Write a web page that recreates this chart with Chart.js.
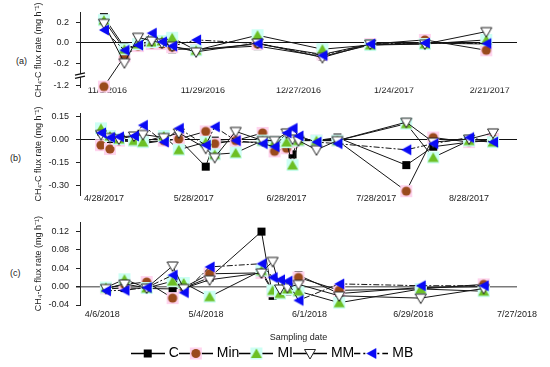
<!DOCTYPE html>
<html>
<head>
<meta charset="utf-8">
<script src="https://cdn.jsdelivr.net/npm/chart.js@4.4.0/dist/chart.umd.min.js"></script>
<style>
  body { margin: 0; background: #fff; width: 550px; height: 367px; position: relative; overflow: hidden;
         font-family: 'Liberation Sans', Arial, sans-serif; }
  canvas { position: absolute; left: 30px; }
  .tag { position: absolute; font-size: 9px; color: #222; }
</style>
</head>
<body>
<div class="tag" style="left:16px;top:56px">(a)</div>
<div class="tag" style="left:10px;top:153px">(b)</div>
<div class="tag" style="left:10px;top:268px">(c)</div>
<canvas id="chartA" width="520" height="100" style="top:0"></canvas>
<canvas id="chartB" width="520" height="110" style="top:100px"></canvas>
<canvas id="chartC" width="520" height="160" style="top:210px"></canvas>
<script>
const seriesNames = ['C', 'Min', 'MI', 'MM', 'MB'];

// panel (a)
const datesA = ['10/31/2016', '11/6/2016', '11/10/2016', '11/14/2016', '11/17/2016', '11/20/2016',
                '11/27/2016', '12/15/2016', '1/3/2017', '1/17/2017', '2/2/2017', '2/20/2017'];
const cA   = [0.25, -0.04, -0.035, -0.02, -0.02, -0.06, -0.06, -0.03, -0.13, -0.02, 0.0, -0.01];
const minA = [-1.21, -0.13, -0.03, -0.01, -0.01, -0.04, -0.065, -0.01, -0.11, -0.01, 0.03, -0.07];
const miA  = [0.22, -0.06, -0.01, 0.01, 0.02, 0.05, -0.07, 0.075, -0.06, -0.02, -0.01, 0.03];
const mmA  = [0.19, -0.19, 0.055, 0.02, 0.0, -0.03, -0.085, 0.0, -0.14, -0.01, -0.01, 0.11];
const mbA  = [0.125, -0.07, -0.02, 0.095, 0.012, -0.03, 0.03, -0.005, -0.12, -0.01, 0.0, -0.005];
const xTicksA = ['11/1/2016', '11/29/2016', '12/27/2016', '1/24/2017', '2/21/2017'];
const yTicksA = [0.2, 0, -0.2, -1.2];

// panel (b)
const datesB = ['4/27/2017', '4/30/2017', '5/3/2017', '5/8/2017', '5/11/2017', '5/18/2017', '5/23/2017',
                '6/1/2017', '6/4/2017', '6/11/2017', '6/20/2017', '6/24/2017', '6/28/2017', '6/30/2017',
                '7/2/2017', '7/8/2017', '7/15/2017', '8/7/2017', '8/16/2017', '8/28/2017', '9/5/2017'];
const cB   = [0.05, 0.0, -0.01, -0.02, -0.03, -0.01, 0.0, -0.18, -0.01, -0.02, -0.02, -0.02, -0.03, -0.10, 0.0, -0.01, 0.01, -0.17, -0.05, -0.02, -0.01];
const minB = [-0.04, -0.065, -0.01, -0.01, -0.02, -0.01, 0.0, 0.05, -0.03, -0.01, 0.04, -0.08, -0.06, -0.02, -0.01, -0.01, -0.01, -0.34, 0.01, -0.02, 0.0];
const miB  = [0.07, 0.02, 0.0, -0.01, -0.02, 0.02, -0.07, -0.02, -0.10, -0.09, -0.01, -0.02, -0.02, -0.17, -0.01, -0.01, -0.01, 0.10, -0.12, -0.01, -0.02];
const mmB  = [0.03, 0.01, 0.0, 0.02, 0.03, 0.01, 0.04, -0.06, -0.12, 0.05, -0.01, -0.01, 0.04, 0.0, -0.01, -0.07, -0.01, 0.11, -0.02, 0.0, 0.04];
const mbB  = [0.04, 0.01, 0.015, 0.02, 0.09, -0.02, 0.07, -0.04, 0.08, -0.01, -0.03, -0.05, 0.04, 0.07, 0.02, -0.02, -0.03, -0.07, -0.03, 0.01, -0.02];
const xTicksB = ['4/28/2017', '5/28/2017', '6/28/2017', '7/28/2017', '8/28/2017'];
const yTicksB = [0.15, 0, -0.15, -0.30];

// panel (c)
const datesC = ['4/7/2018', '4/12/2018', '4/18/2018', '4/25/2018', '4/28/2018', '5/5/2018', '5/19/2018',
                '5/22/2018', '5/24/2018', '5/26/2018', '5/29/2018', '6/9/2018', '7/1/2018', '7/18/2018'];
const cC   = [-0.005, -0.003, -0.004, -0.005, -0.003, 0.02, 0.12, -0.02, -0.015, -0.01, 0.025, -0.015, -0.002, 0.0];
const minC = [-0.004, 0.005, 0.01, -0.025, -0.002, 0.028, 0.03, -0.01, -0.01, -0.005, 0.02, -0.008, -0.005, 0.005];
const miC  = [-0.002, 0.016, -0.003, 0.012, 0.008, -0.022, 0.035, -0.008, -0.015, -0.005, -0.01, -0.035, -0.005, -0.01];
const mmC  = [-0.004, 0.006, -0.003, 0.045, -0.004, 0.015, 0.03, 0.055, -0.005, -0.002, 0.005, -0.02, -0.025, -0.004];
const mbC  = [-0.009, -0.008, -0.002, 0.025, -0.013, 0.043, 0.05, 0.02, 0.015, 0.012, -0.03, 0.006, 0.002, 0.002];
const xTicksC = ['4/6/2018', '5/4/2018', '6/1/2018', '6/29/2018', '7/27/2018'];
const yTicksC = [0.12, 0.08, 0.04, 0, -0.04];

const FONT = "'Liberation Sans', Arial, sans-serif";
Chart.defaults.font.family = FONT;

function toDay(s) {
    const [m, d, y] = s.split('/').map(Number);
    return Date.UTC(y, m - 1, d) / 864e5;
}
function fromDay(v) {
    const t = new Date(Math.round(v) * 864e5);
    return (t.getUTCMonth() + 1) + '/' + t.getUTCDate() + '/' + t.getUTCFullYear();
}

// marker glyphs
function drawGlyph(g, kind, cx, cy) {
    g.lineWidth = 1;
    if (kind === 0) {
        g.fillStyle = '#000';
        g.fillRect(cx - 4, cy - 4, 8, 8);
    } else if (kind === 1) {
        g.fillStyle = '#ffd4ee';
        g.fillRect(cx - 6, cy - 6, 12, 12);
        g.fillStyle = '#9a4a1c';
        g.beginPath(); g.arc(cx, cy, 4.6, 0, Math.PI * 2); g.fill();
    } else if (kind === 2) {
        g.fillStyle = '#cdfff4';
        g.fillRect(cx - 6, cy - 6, 12, 12);
        g.fillStyle = '#6cc024';
        g.beginPath(); g.moveTo(cx, cy - 5); g.lineTo(cx + 5.5, cy + 4.5); g.lineTo(cx - 5.5, cy + 4.5); g.closePath(); g.fill();
    } else if (kind === 3) {
        g.fillStyle = '#fff'; g.strokeStyle = '#222';
        g.beginPath(); g.moveTo(cx - 5.5, cy - 4); g.lineTo(cx + 5.5, cy - 4); g.lineTo(cx, cy + 5.5); g.closePath(); g.fill(); g.stroke();
    } else {
        g.fillStyle = '#0a0af5';
        g.beginPath(); g.moveTo(cx - 5, cy); g.lineTo(cx + 5, cy - 5.5); g.lineTo(cx + 5, cy + 5.5); g.closePath(); g.fill();
    }
}
const markers = seriesNames.map((n, i) => {
    const c = document.createElement('canvas');
    c.width = 14; c.height = 14;
    drawGlyph(c.getContext('2d'), i, 7, 7);
    return c;
});
const legendMarks = seriesNames.map((n, i) => {
    const c = document.createElement('canvas');
    c.width = 34; c.height = 14;
    const g = c.getContext('2d');
    g.strokeStyle = '#000'; g.lineWidth = 1.5;
    if (i === 4) g.setLineDash([6, 3, 2, 3]);
    g.beginPath(); g.moveTo(0, 7.5); g.lineTo(34, 7.5); g.stroke();
    g.setLineDash([]);
    drawGlyph(g, i, 17, 7.5);
    return c;
});

// y axis of panel (a) has a break between -0.3 and -1.1
class BrokenScale extends Chart.LinearScale {
    getPixelForValue(v) {
        return super.getPixelForValue(v < -0.3 ? v + 0.79 : v);
    }
}
BrokenScale.id = 'broken';
BrokenScale.defaults = Chart.LinearScale.defaults;
Chart.register(BrokenScale);

const breakMarks = {
    id: 'breakMarks',
    afterDraw(chart) {
        const s = chart.scales.y, g = chart.ctx;
        const y = (s.getPixelForValue(-0.2) + s.getPixelForValue(-1.2)) / 2 + 1;
        const x = chart.chartArea.left;
        g.save();
        g.fillStyle = '#fff';
        g.fillRect(x - 3, y - 1.5, 6, 3);
        g.strokeStyle = '#111'; g.lineWidth = 1.3;
        [-1.6, 1.6].forEach(d => {
            g.beginPath(); g.moveTo(x - 5, y + d + 1.2); g.lineTo(x + 5, y + d - 1.2); g.stroke();
        });
        g.restore();
    }
};

function panel(id, dates, values, xTicks, yTicks, o) {
    const xs = dates.map(toDay);
    return new Chart(document.getElementById(id), {
        type: 'line',
        data: {
            datasets: values.map((vals, i) => ({
                label: seriesNames[i],
                data: vals.map((v, j) => ({ x: xs[j], y: v })),
                borderColor: '#151515',
                borderWidth: 1,
                borderDash: i === 4 ? [6, 2, 2, 2] : [],
                pointStyle: markers[i],
                pointRadius: 6,
                order: 5 - i,
                clip: false,
                tension: 0
            }))
        },
        options: {
            responsive: false,
            animation: false,
            events: [],
            layout: { padding: { top: o.top, right: 33, left: 0, bottom: 0 } },
            plugins: {
                legend: o.legend || { display: false },
                tooltip: { enabled: false }
            },
            scales: {
                x: {
                    type: 'linear',
                    min: toDay(o.xMin),
                    max: toDay(o.xMax),
                    grid: { display: false },
                    border: { display: false },
                    afterBuildTicks: s => { s.ticks = xTicks.map(t => ({ value: toDay(t) })); },
                    afterFit: s => { s.height = o.xh; },
                    ticks: { autoSkip: false, maxRotation: 0, padding: o.xpad, color: '#222',
                             font: { size: 9 }, callback: v => fromDay(v) },
                    title: o.xTitle || { display: false }
                },
                y: {
                    type: o.broken ? 'broken' : 'linear',
                    min: o.yMin,
                    max: o.yMax,
                    afterBuildTicks: s => { s.ticks = yTicks.map(v => ({ value: v })); },
                    afterFit: s => { s.width = 50; },
                    border: { display: true, color: '#222', width: 1 },
                    grid: {
                        color: c => (c.tick && c.tick.value === 0) ? o.zero : 'rgba(0,0,0,0)',
                        lineWidth: c => (c.tick && c.tick.value === 0) ? o.zeroW : 1,
                        tickColor: '#222', tickLength: 4
                    },
                    ticks: { padding: 7, color: '#222', font: { size: 9 }, callback: v => v.toFixed(o.dec) },
                    title: { display: true, text: 'CH₄-C flux rate (mg h⁻¹)', color: '#222',
                             font: { size: 9 }, padding: { top: 3, bottom: 0 } }
                }
            }
        },
        plugins: o.plugins || []
    });
}

panel('chartA', datesA, [cA, minA, miA, mmA, mbA], xTicksA, yTicksA, {
    top: 12, xh: 12, xpad: -10, xMin: '10/24/2016', xMax: '3/1/2017',
    yMin: -0.43, yMax: 0.295, dec: 1, broken: true, zero: '#111', zeroW: 1, plugins: [breakMarks]
});

panel('chartB', datesB, [cB, minB, miB, mmB, mbB], xTicksB, yTicksB, {
    top: 13, xh: 15, xpad: -10, xMin: '4/20/2017', xMax: '9/13/2017',
    yMin: -0.365, yMax: 0.17, dec: 2, zero: '#111', zeroW: 1
});

panel('chartC', datesC, [cC, minC, miC, mmC, mbC], xTicksC, yTicksC, {
    top: 10, xh: 38, xpad: -4, xMin: '3/31/2018', xMax: '7/27/2018',
    yMin: -0.04, yMax: 0.14, dec: 2, zero: '#7a7a7a', zeroW: 1.5,
    xTitle: { display: true, text: 'Sampling date', color: '#222', font: { size: 9 }, padding: { top: 0, bottom: 0 } },
    legend: {
        display: true,
        position: 'bottom',
        labels: {
            usePointStyle: true,
            pointStyleWidth: 28,
            padding: 3,
            color: '#000',
            font: { size: 14 },
            generateLabels: () => seriesNames.map((n, i) => ({
                text: n, pointStyle: legendMarks[i], fillStyle: '#000', strokeStyle: '#000',
                lineWidth: 0, hidden: false, datasetIndex: i
            }))
        }
    }
});
</script>
</body>
</html>
